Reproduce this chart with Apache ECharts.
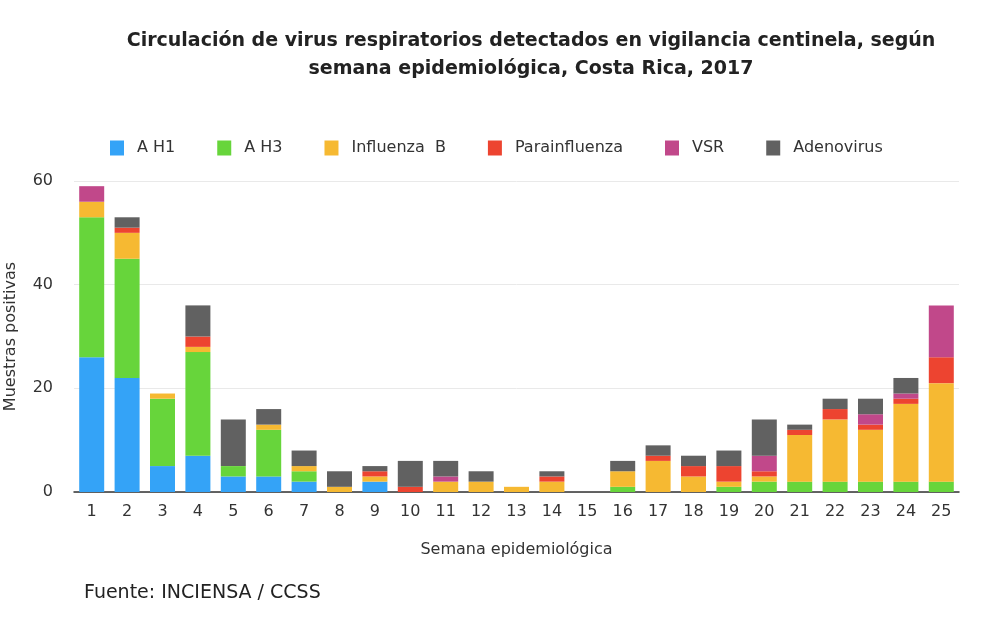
<!DOCTYPE html>
<html>
<head>
<meta charset="utf-8">
<script src="https://cdn.jsdelivr.net/npm/echarts@6/dist/echarts.min.js"></script>
<style>html,body{margin:0;padding:0;background:#fff}#c{width:1000px;height:628px}</style>
</head>
<body>
<div id="c"></div>
<script>
const weeks = ['1','2','3','4','5','6','7','8','9','10','11','12','13','14','15','16','17','18','19','20','21','22','23','24','25'];
const ah1 =   [26,22,5,7,3,3,2,0,2,0,0,0,0,0,0,0,0,0,0,0,0,0,0,0,0];
const ah3 =   [27,23,13,20,2,9,2,0,0,0,0,0,0,0,0,1,0,0,1,2,2,2,2,2,2];
const infB =  [3,5,1,1,0,1,1,1,1,0,2,2,1,2,0,3,6,3,1,1,9,12,10,15,19];
const para =  [0,1,0,2,0,0,0,0,1,1,0,0,0,1,0,0,1,2,3,1,1,2,1,1,5];
const vsr =   [3,0,0,0,0,0,0,0,0,0,1,0,0,0,0,0,0,0,0,3,0,0,2,1,10];
const adeno = [0,2,0,6,9,3,3,3,1,5,3,2,0,1,0,2,2,2,3,7,1,2,3,3,0];
const yTicks = [0,20,40,60];

const seriesDefs = [
  ['A H1', ah1, '#34A3F7'],
  ['A H3', ah3, '#67D53B'],
  ['Influenza  B', infB, '#F6B932'],
  ['Parainfluenza', para, '#ED4430'],
  ['VSR', vsr, '#C1488A'],
  ['Adenovirus', adeno, '#616161']
];

const font = '"DejaVu Sans", "Liberation Sans", sans-serif';
const chart = echarts.init(document.getElementById('c'));
chart.setOption({
  animation: false,
  textStyle: { fontFamily: font },
  title: {
    text: 'Circulación de virus respiratorios detectados en vigilancia centinela, según\nsemana epidemiológica, Costa Rica, 2017',
    left: 526, top: 22, textAlign: 'center',
    textStyle: { fontSize: 19, fontWeight: 'bold', color: '#222', lineHeight: 28, fontFamily: font }
  },
  legend: {
    top: 135, left: 105,
    itemWidth: 14, itemHeight: 15, itemGap: 42,
    icon: 'rect',
    textStyle: { fontSize: 16, color: '#333', padding: [0, 0, 0, 8], fontFamily: font },
    data: seriesDefs.map(d => d[0])
  },
  grid: { left: 74, right: 41, top: 181, bottom: 136, containLabel: false, outerBoundsMode: 'none' },
  xAxis: {
    type: 'category',
    data: weeks,
    name: 'Semana epidemiológica',
    nameLocation: 'middle',
    nameGap: 50,
    nameTextStyle: { fontSize: 16, color: '#333', fontFamily: font },
    axisLine: { lineStyle: { color: '#333', width: 1.5 } },
    axisTick: { show: false },
    axisLabel: { fontSize: 16, color: '#333', margin: 12, fontFamily: font }
  },
  yAxis: {
    type: 'value',
    min: 0, max: 60, interval: 20,
    name: 'Muestras positivas',
    nameLocation: 'middle',
    nameGap: 55,
    nameTextStyle: { fontSize: 16, color: '#333', fontFamily: font },
    axisLine: { show: false },
    axisTick: { show: false },
    splitLine: { lineStyle: { color: '#e9e9e9' } },
    axisLabel: { fontSize: 16, color: '#333', margin: 21, fontFamily: font,
      formatter: v => yTicks.includes(v) ? String(v) : '' }
  },
  series: seriesDefs.map(d => ({
    name: d[0], type: 'bar', stack: 'total', data: d[1],
    barWidth: 25, itemStyle: { color: d[2] }
  })),
  graphic: [{
    type: 'text', left: 84, top: 584,
    style: { text: 'Fuente: INCIENSA / CCSS', fontSize: 19, fill: '#222', fontFamily: font }
  }]
});
</script>
</body>
</html>
